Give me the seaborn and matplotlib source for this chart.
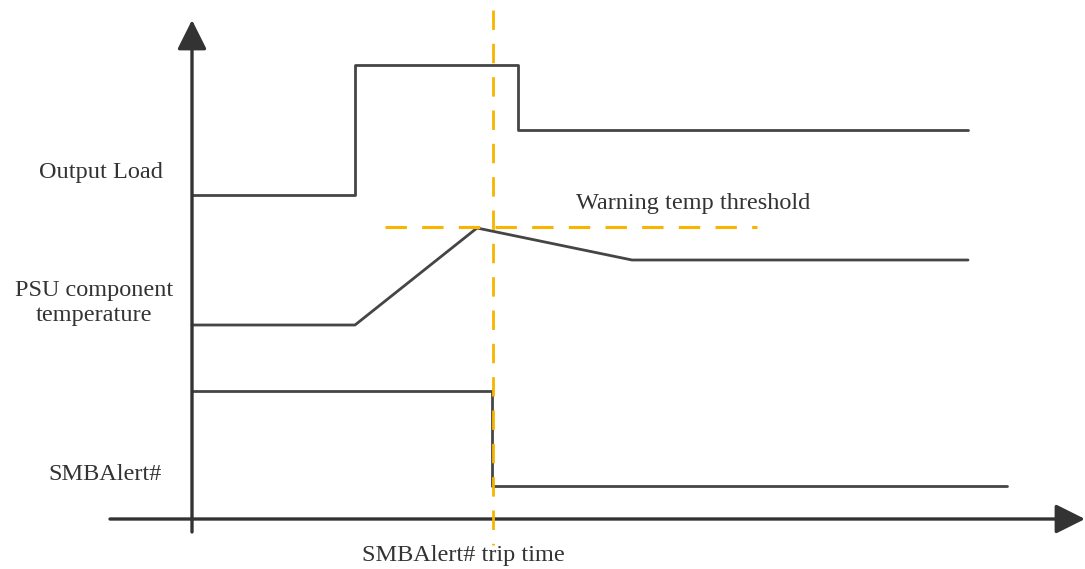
import matplotlib
matplotlib.use('Agg')
import pandas as pd
import matplotlib.pyplot as plt
import seaborn as sns

# time / level points (pixel-like units, y grows downwards)
load_t = [192, 355, 355, 518, 518, 968]
load_y = [195, 195, 65, 65, 130, 130]

temp_t = [192, 355, 477, 632, 968]
temp_y = [325, 325, 228, 260, 260]

alert_t = [192, 492, 492, 1007]
alert_y = [391, 391, 486, 486]

threshold_t = [385, 757]
threshold_y = [227, 227]

trip_t = [493, 493]
trip_y = [10, 545]

labels = ['Output Load', 'PSU component\ntemperature', 'SMBAlert#']
label_x = [101, 94, 105]
label_y = [172, 303, 474]

line_col = '#454545'
text_col = '#333333'
orange = '#F7B500'

sns.set_theme(style='white')
plt.rcParams['font.family'] = ['Liberation Serif', 'DejaVu Serif']

fig = plt.figure(figsize=(10.85, 5.69), dpi=100)
ax = fig.add_axes([0, 0, 1, 1])
ax.set_xlim(0, 1085)
ax.set_ylim(569, 0)
ax.axis('off')

waves = pd.concat([
    pd.DataFrame({'t': load_t, 'level': load_y, 'signal': 'load'}),
    pd.DataFrame({'t': temp_t, 'level': temp_y, 'signal': 'temp'}),
    pd.DataFrame({'t': alert_t, 'level': alert_y, 'signal': 'alert'}),
])
sns.lineplot(data=waves, x='t', y='level', units='signal', estimator=None,
             sort=False, color=line_col, lw=2.0, ax=ax)

# orange dashed markers
sns.lineplot(x=threshold_t, y=threshold_y, color=orange, lw=2.2,
             estimator=None, sort=False, ax=ax)
ax.lines[-1].set_dashes([7, 5])
sns.lineplot(x=trip_t, y=trip_y, color=orange, lw=2.0, estimator=None,
             sort=False, ax=ax)
ax.lines[-1].set_dashes([7, 5])
ax.lines[-1].set_zorder(5)

# axes with arrow heads
arrow = dict(arrowstyle='-|>,head_length=0.4,head_width=0.2', mutation_scale=45,
             color='#333333', lw=2.4, shrinkA=0, shrinkB=0)
ax.annotate('', xy=(192, 20), xytext=(192, 532), arrowprops=arrow)
ax.annotate('', xy=(1085, 519), xytext=(110, 519), arrowprops=arrow)

# signal names
for lab, x, y in zip(labels, label_x, label_y):
    ax.text(x, y, lab, ha='center', va='center', fontsize=17.5,
            color=text_col, linespacing=1.3)

ax.text(693, 203, 'Warning temp threshold', ha='center', va='center',
        fontsize=17.5, color=text_col)
ax.text(463, 555, 'SMBAlert# trip time', ha='center', va='center',
        fontsize=17.5, color=text_col)

fig.savefig('out.png', dpi=100)
